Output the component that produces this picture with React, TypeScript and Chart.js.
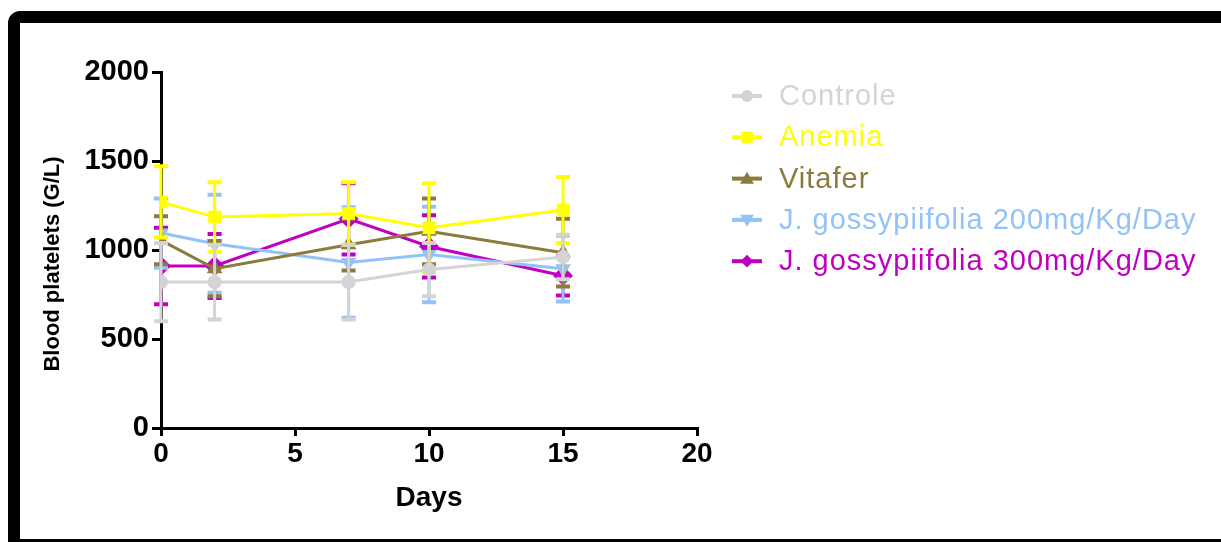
import React, { useEffect, useRef } from "react";
import { Chart, registerables } from "chart.js";

Chart.register(...registerables);

const days = [0, 2, 7, 10, 15];
const seriesNames = [
  "Controle",
  "Anemia",
  "Vitafer",
  "J. gossypiifolia 200mg/Kg/Day",
  "J. gossypiifolia 300mg/Kg/Day",
];
const controle = [820, 820, 820, 890, 960];
const controleSD = [220, 210, 210, 150, 125];
const anemia = [1270, 1185, 1205, 1125, 1225];
const anemiaSD = [200, 195, 175, 250, 185];
const vitafer = [1055, 895, 1030, 1105, 985];
const vitaferSD = [135, 155, 145, 185, 190];
const jg200 = [1095, 1035, 930, 975, 895];
const jg200SD = [195, 275, 310, 268, 185];
const jg300 = [910, 910, 1175, 1020, 855];
const jg300SD = [215, 180, 200, 175, 110];

const yTicks = [0, 500, 1000, 1500, 2000];
const xTicks = [0, 5, 10, 15, 20];
const yTitle = "Blood platelets (G/L)";
const xTitle = "Days";

const colors = ["#d4d4d4", "#ffff00", "#8b7b3c", "#92c2f7", "#c000c0"];
const pointStyles = ["circle", "rect", "triangle", "triangle", "rectRot"];
const rotations = [0, 0, 0, 180, 0];
const radii = [7, 9, 9, 9, 10];
const values = [controle, anemia, vitafer, jg200, jg300];
const sds = [controleSD, anemiaSD, vitaferSD, jg200SD, jg300SD];

const FONT = '"Liberation Sans", Arial, Helvetica, sans-serif';

function drawMarker(ctx: CanvasRenderingContext2D, style: string, rot: number, r: number, x: number, y: number) {
  ctx.beginPath();
  if (style === "circle") {
    ctx.arc(x, y, r, 0, Math.PI * 2);
  } else if (style === "rect") {
    const s = Math.SQRT1_2 * r;
    ctx.rect(x - s, y - s, 2 * s, 2 * s);
  } else if (style === "rectRot") {
    const s = Math.SQRT1_2 * r;
    ctx.moveTo(x - s, y);
    ctx.lineTo(x, y + s);
    ctx.lineTo(x + s, y);
    ctx.lineTo(x, y - s);
    ctx.closePath();
  } else if (style === "triangle") {
    const a = (rot * Math.PI) / 180;
    for (let k = 0; k < 3; k++) {
      const ang = a - Math.PI / 2 + (k * 2 * Math.PI) / 3;
      const px = x + Math.cos(ang) * r;
      const py = y + Math.sin(ang) * r + (rot ? -r * 0.15 : r * 0.15);
      if (k === 0) ctx.moveTo(px, py);
      else ctx.lineTo(px, py);
    }
    ctx.closePath();
  }
  ctx.fill();
}

const errorBarPlugin = {
  id: "errorBars",
  beforeDatasetDraw(chart: any, args: any) {
    const i = args.index;
    const ctx = chart.ctx;
    const xs = chart.scales.x;
    const ys = chart.scales.y;
    ctx.save();
    ctx.strokeStyle = colors[i];
    ctx.lineWidth = 3;
    const vals = values[i];
    const sd = sds[i];
    for (let k = 0; k < days.length; k++) {
      const x = xs.getPixelForValue(days[k]);
      const yHi = ys.getPixelForValue(vals[k] + sd[k]);
      const yLo = ys.getPixelForValue(vals[k] - sd[k]);
      ctx.beginPath();
      ctx.moveTo(x, yHi);
      ctx.lineTo(x, yLo);
      ctx.stroke();
      ctx.save();
      ctx.lineWidth = 4;
      ctx.beginPath();
      ctx.moveTo(x - 7, yHi);
      ctx.lineTo(x + 7, yHi);
      ctx.moveTo(x - 7, yLo);
      ctx.lineTo(x + 7, yLo);
      ctx.stroke();
      ctx.restore();
    }
    ctx.restore();
  },
};

const legendPlugin = {
  id: "customLegend",
  afterDraw(chart: any) {
    const ctx = chart.ctx;
    const area = chart.chartArea;
    // y axis title
    ctx.save();
    ctx.font = `bold 22px ${FONT}`;
    ctx.fillStyle = "#000";
    ctx.textAlign = "center";
    ctx.textBaseline = "middle";
    ctx.translate(area.left - 108, (area.top + area.bottom) / 2 + 14);
    ctx.rotate(-Math.PI / 2);
    ctx.fillText(yTitle, 0, 0);
    ctx.restore();

    const x0 = area.right + 35;
    ctx.save();
    ctx.font = `29px ${FONT}`;
    (ctx as any).letterSpacing = "1px";
    ctx.textBaseline = "middle";
    ctx.textAlign = "left";
    for (let i = 0; i < seriesNames.length; i++) {
      const y = area.top + 24 + i * 41.3;
      ctx.strokeStyle = colors[i];
      ctx.fillStyle = colors[i];
      ctx.lineWidth = 4;
      ctx.beginPath();
      ctx.moveTo(x0, y);
      ctx.lineTo(x0 + 30, y);
      ctx.stroke();
      drawMarker(ctx, pointStyles[i], rotations[i], radii[i] - 1, x0 + 15, y);
      ctx.fillText(seriesNames[i], x0 + 47, y + 1);
    }
    ctx.restore();
  },
};

export default function App() {
  const ref = useRef<HTMLCanvasElement | null>(null);

  useEffect(() => {
    if (!ref.current) return;
    const datasets = seriesNames.map((name, i) => ({
      label: name,
      data: days.map((d, k) => ({ x: d, y: values[i][k] })),
      borderColor: colors[i],
      backgroundColor: colors[i],
      borderWidth: 3,
      pointStyle: pointStyles[i] as any,
      rotation: rotations[i],
      pointRadius: radii[i],
      pointBorderWidth: 0,
      pointBackgroundColor: colors[i],
      tension: 0,
      fill: false,
    }));
    const chart = new Chart(ref.current, {
      type: "line",
      data: { datasets },
      options: {
        responsive: false,
        animation: false,
        layout: { padding: { left: 30, top: 72, right: 524, bottom: 20 } },
        plugins: { legend: { display: false }, tooltip: { enabled: false } },
        scales: {
          x: {
            type: "linear",
            min: 0,
            max: 20,
            afterBuildTicks: (scale: any) => {
              scale.ticks = xTicks.map((v) => ({ value: v }));
            },
            afterFit: (scale: any) => {
              scale.height = 542 - 428 - 20;
            },
            grid: { drawOnChartArea: false, drawTicks: true, tickLength: 8, color: "#000", lineWidth: 3 },
            border: { display: true, color: "#000", width: 3 },
            ticks: {
              color: "#000",
              padding: 1,
              maxRotation: 0,
              callback: (v: any) => String(v),
              font: { family: FONT, size: 28, weight: "bold" },
            },
            title: {
              display: true,
              text: xTitle,
              color: "#000",
              padding: { top: 0, bottom: 7 },
              font: { family: FONT, size: 28, weight: "bold" },
            },
          },
          y: {
            type: "linear",
            min: 0,
            max: 2000,
            afterBuildTicks: (scale: any) => {
              scale.ticks = yTicks.map((v) => ({ value: v }));
            },
            afterFit: (scale: any) => {
              scale.width = 161 - 30;
            },
            grid: { drawOnChartArea: false, drawTicks: true, tickLength: 9, color: "#000", lineWidth: 3 },
            border: { display: true, color: "#000", width: 3 },
            ticks: {
              color: "#000",
              padding: 3,
              callback: (v: any) => String(v),
              font: { family: FONT, size: 29, weight: "bold" },
            },
            title: { display: false },
          },
        },
      },
      plugins: [errorBarPlugin, legendPlugin],
    });
    return () => chart.destroy();
  }, []);

  return (
    <div
      style={{
        position: "fixed",
        left: 0,
        top: 0,
        width: 1221,
        height: 542,
        overflow: "hidden",
        background: "#fff",
      }}
    >
      <canvas ref={ref} width={1221} height={542} style={{ position: "absolute", left: 0, top: 0, width: 1221, height: 542 }} />
      <div
        style={{
          position: "absolute",
          left: 8,
          top: 11,
          width: 1400,
          height: 540,
          boxSizing: "border-box",
          border: "12px solid #000",
          borderTopLeftRadius: 12,
          pointerEvents: "none",
        }}
      />
    </div>
  );
}
